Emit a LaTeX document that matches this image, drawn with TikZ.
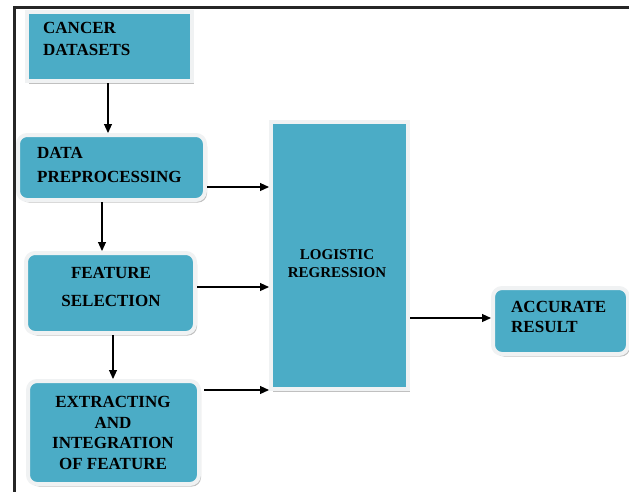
\documentclass[tikz,border=0pt]{standalone}
\usepackage{fontspec}
\setmainfont{Liberation Serif}
\usetikzlibrary{arrows.meta,shadows}
\definecolor{boxteal}{RGB}{75,172,198}
\definecolor{rimwhite}{RGB}{240,242,243}
\begin{document}
\begin{tikzpicture}[x=1pt,y=-1pt,
  box/.style={fill=boxteal, draw=rimwhite, line width=4pt, inner sep=0pt,
    drop shadow={shadow xshift=2pt, shadow yshift=-2.5pt, fill=black!45, opacity=0.55}},
  roundbox/.style={box, rounded corners=9pt},
  txt/.style={font=\bfseries\fontsize{17}{22}\selectfont, inner sep=0pt, text=black},
  arr/.style={-{Triangle[length=9pt,width=8pt]}, line width=1.1pt, draw=black}]
  \useasboundingbox (0,0) rectangle (629,491);
  % outer frame (left and top edges)
  \draw[line width=3pt, black!85, line cap=rect] (14,491) -- (14,7) -- (629,7);

  % boxes
  \node[box, minimum width=165pt, minimum height=69pt] (cancer) at (109.5,46.5) {};
  \node[roundbox, minimum width=187pt, minimum height=65pt] (data) at (111.5,167.5) {};
  \node[roundbox, minimum width=169pt, minimum height=80pt] (feature) at (110.5,293) {};
  \node[roundbox, minimum width=171pt, minimum height=103pt] (extract) at (113.5,432.5) {};
  \node[box, minimum width=137pt, minimum height=267pt] (lr) at (339.5,255.5) {};
  \node[roundbox, minimum width=135pt, minimum height=66pt] (acc) at (560.5,321) {};

  % box texts
  \node[txt, align=left, anchor=west] (tcancer) at (43,39) {CANCER\\DATASETS};
  \node[txt, align=left, anchor=west, font=\bfseries\fontsize{17}{24}\selectfont] (tdata) at (37,165) {DATA\\PREPROCESSING};
  \node[txt, align=center, font=\bfseries\fontsize{17}{28}\selectfont] (tfeature) at (111,287) {FEATURE\\SELECTION};
  \node[txt, align=center, font=\bfseries\fontsize{17}{20.7}\selectfont] (textract) at (113,433) {EXTRACTING\\AND\\INTEGRATION\\OF FEATURE};
  \node[txt, align=center, font=\bfseries\fontsize{15}{18}\selectfont] (tlr) at (337,264) {LOGISTIC\\REGRESSION};
  \node[txt, align=left, anchor=west, font=\bfseries\fontsize{17}{20}\selectfont] (tacc) at (511,317) {ACCURATE\\RESULT};

  % connector guides
  \coordinate (v1) at (108,0);
  \coordinate (v2) at (102,0);
  \coordinate (v3) at (113,0);
  \coordinate (h1) at (0,187);
  \coordinate (h2) at (0,287);
  \coordinate (h3) at (0,390);
  \coordinate (h4) at (0,318);

  % vertical flow
  \draw[arr] (v1 |- cancer.south) -- (v1 |- data.north);
  \draw[arr] (v2 |- data.south) -- (v2 |- feature.north);
  \draw[arr] (v3 |- feature.south) -- (v3 |- extract.north);
  % into the regression block
  \draw[arr] (data.east |- h1) -- (lr.west |- h1);
  \draw[arr] (feature.east |- h2) -- (lr.west |- h2);
  \draw[arr] ([xshift=3pt]extract.east |- h3) -- (lr.west |- h3);
  % result
  \draw[arr] (lr.east |- h4) -- (acc.west |- h4);
\end{tikzpicture}
\end{document}
